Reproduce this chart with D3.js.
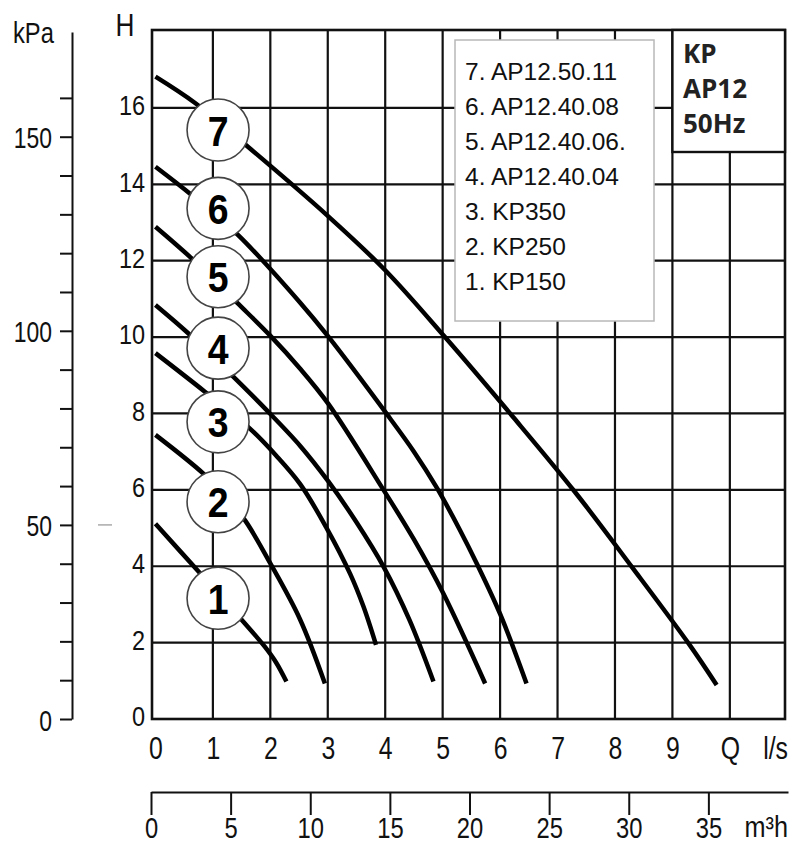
<!DOCTYPE html>
<html>
<head>
<meta charset="utf-8">
<script src="https://cdn.jsdelivr.net/npm/d3@7"></script>
<style>
  html, body { margin: 0; padding: 0; background: #fff; }
  svg { display: block; }
</style>
</head>
<body>
<svg id="chart" width="790" height="845"></svg>
<script>
// ---------- data ----------
const seriesNames = ["1", "2", "3", "4", "5", "6", "7"];
const legendLabels = ["7. AP12.50.11", "6. AP12.40.08", "5. AP12.40.06.", "4. AP12.40.04", "3. KP350", "2. KP250", "1. KP150"];
const boxLabels = ["KP", "AP12", "50Hz"];

// flow Q (l/s) and head H (m) per curve
const q1 = [0, 0.75, 1.50, 1.90, 2.10, 2.28];
const h1 = [5.11, 3.86, 2.60, 1.90, 1.48, 0.98];
const q2 = [0, 0.83, 1.20, 1.56, 1.99, 2.52, 2.95];
const h2 = [7.44, 6.43, 5.85, 5.20, 4.10, 2.60, 0.93];
const q3 = [0, 0.86, 1.64, 2.10, 2.52, 2.98, 3.39, 3.62, 3.84];
const h3 = [9.58, 8.57, 7.61, 6.90, 6.15, 5.00, 3.80, 2.95, 1.94];
const q4 = [0, 0.57, 1.35, 1.94, 2.52, 3.01, 3.50, 3.97, 4.42, 4.84];
const h4 = [10.84, 10.10, 8.97, 8.08, 7.15, 6.22, 5.15, 3.99, 2.60, 0.98];
const q5 = [0, 0.63, 1.42, 1.99, 2.52, 3.01, 3.97, 4.50, 5.01, 5.74];
const h5 = [12.89, 12.06, 10.90, 10.05, 9.17, 8.25, 6.00, 4.70, 3.29, 0.93];
const q6 = [0, 0.63, 1.44, 2.52, 3.01, 4.02, 4.50, 4.90, 5.30, 5.60, 6.00, 6.46];
const h6 = [14.46, 13.72, 12.67, 10.90, 10.01, 8.00, 7.00, 6.05, 4.95, 4.05, 2.75, 0.93];
const q7 = [0, 0.69, 1.62, 2.98, 4.00, 5.04, 6.23, 7.30, 8.29, 9.29, 9.77];
const h7 = [16.82, 16.13, 14.97, 13.20, 11.75, 10.00, 7.90, 5.95, 3.99, 1.96, 0.89];

// circle label anchors (Q, H)
const labelQ = 1.09;
const labelH = [3.16, 5.69, 7.78, 9.71, 11.58, 13.37, 15.42];

// ticks
const qTicks = [0, 1, 2, 3, 4, 5, 6, 7, 8, 9, 10];
const qTickText = ["0", "1", "2", "3", "4", "5", "6", "7", "8", "9", "Q"];
const hTicks = [0, 2, 4, 6, 8, 10, 12, 14, 16];
const hGrid = [2, 4, 6, 8, 10, 12, 14, 16];
const qGrid = [1, 2, 3, 4, 5, 6, 7, 8, 9, 10];
const kpaTicks = [0, 10, 20, 30, 40, 50, 60, 70, 80, 90, 100, 110, 120, 130, 140, 150, 160];
const kpaLabeled = [0, 50, 100, 150];
const m3Ticks = [0, 5, 10, 15, 20, 25, 30, 35];

// ---------- layout ----------
const svg = d3.select("#chart");
const FONT = "'Liberation Sans', Arial, sans-serif";
const plotL = 152, plotR = 785, plotT = 30, plotB = 719;

const x = d3.scaleLinear().domain([-0.06, 10.96]).range([plotL, plotR]);
const y = d3.scaleLinear().domain([0, 18.04]).range([plotB, plotT]);
const kpa = d3.scaleLinear().domain([0, 18.04 * 9.81]).range([plotB, plotT + 2]);
const m3 = d3.scaleLinear().domain([0, 40]).range([151, 788]);

// ---------- grid ----------
const grid = svg.append("g").attr("stroke", "#111").attr("stroke-width", 2.2);
grid.selectAll(".v").data(qGrid).join("line")
  .attr("x1", d => x(d)).attr("x2", d => x(d))
  .attr("y1", plotT).attr("y2", plotB);
grid.selectAll(".h").data(hGrid).join("line")
  .attr("x1", plotL).attr("x2", plotR)
  .attr("y1", d => y(d)).attr("y2", d => y(d));

// frame
svg.append("rect").attr("x", plotL).attr("y", plotT)
  .attr("width", plotR - plotL).attr("height", plotB - plotT)
  .attr("fill", "none").attr("stroke", "#111").attr("stroke-width", 2.6);

// ---------- H axis (left of frame) ----------
const hAxis = svg.append("g").attr("transform", `translate(${plotL},0)`)
  .call(d3.axisLeft(y).tickValues(hTicks).tickSize(0).tickPadding(7).tickFormat(d => d));
hAxis.select(".domain").remove();
hAxis.selectAll(".tick text").attr("font-family", FONT).attr("font-size", 27).attr("fill", "#111")
  .attr("dy", "0.25em").attr("x", -7 / 0.87).attr("transform", "scale(0.87,1)");
hAxis.attr("font-family", null).attr("font-size", null);

// ---------- l/s axis (bottom) ----------
const qAxis = svg.append("g").attr("transform", `translate(0,${plotB})`)
  .call(d3.axisBottom(x).tickValues(qTicks).tickSize(0).tickPadding(18)
    .tickFormat((d, i) => qTickText[i]));
qAxis.select(".domain").remove();
qAxis.selectAll(".tick text").attr("font-family", FONT).attr("font-size", 31).attr("fill", "#111")
  .attr("x", 0).attr("transform", "scale(0.8,1)");
qAxis.attr("font-family", null).attr("font-size", null);

// ---------- kPa axis ----------
const kAxis = svg.append("g").attr("transform", "translate(72,0)")
  .call(d3.axisLeft(kpa).tickValues(kpaTicks).tickSize(12).tickSizeOuter(0).tickPadding(8)
    .tickFormat(d => kpaLabeled.includes(d) ? d : ""));
kAxis.select(".domain").attr("stroke", "#111").attr("stroke-width", 2);
kAxis.selectAll(".tick line").attr("stroke", "#111").attr("stroke-width", 2);
kAxis.selectAll(".tick text").attr("font-family", FONT).attr("font-size", 29).attr("fill", "#111")
  .attr("x", -20 / 0.79).attr("dy", "0.38em").attr("transform", "scale(0.79,1)");
kAxis.attr("font-family", null).attr("font-size", null);

// ---------- m3/h axis ----------
const mAxis = svg.append("g").attr("transform", "translate(0,792)")
  .call(d3.axisBottom(m3).tickValues(m3Ticks).tickSize(23).tickSizeOuter(0).tickPadding(2));
mAxis.select(".domain").attr("stroke", "#111").attr("stroke-width", 2);
mAxis.selectAll(".tick line").attr("stroke", "#111").attr("stroke-width", 2);
mAxis.selectAll(".tick text").attr("font-family", FONT).attr("font-size", 29).attr("fill", "#111")
  .attr("x", 0).attr("transform", "scale(0.82,1)");
mAxis.attr("font-family", null).attr("font-size", null);

// ---------- axis titles / units ----------
function ctext(str, px, py, size, sx, anchor, weight) {
  return svg.append("text").text(str)
    .attr("transform", `translate(${px},${py}) scale(${sx},1)`)
    .attr("text-anchor", anchor).attr("font-family", FONT)
    .attr("font-size", size).attr("font-weight", weight || "normal").attr("fill", "#111");
}
ctext("kPa", 13, 43, 30, 0.79, "start");
ctext("H", 125, 36, 32, 0.82, "middle");
ctext("l/s", 788, 759, 31, 0.8, "end");
ctext("m³h", 788, 837, 29, 0.87, "end");

// small grey artifact dash
svg.append("line").attr("x1", 98).attr("x2", 112).attr("y1", kpa(50)).attr("y2", kpa(50))
  .attr("stroke", "#aaa").attr("stroke-width", 1.5);

// ---------- curves ----------
const series = [[q1, h1], [q2, h2], [q3, h3], [q4, h4], [q5, h5], [q6, h6], [q7, h7]];
const line = d3.line().x(d => x(d[0])).y(d => y(d[1])).curve(d3.curveCatmullRom.alpha(0.5));
svg.append("g").selectAll("path").data(series).join("path")
  .attr("d", s => line(s[0].map((q, i) => [q, s[1][i]])))
  .attr("fill", "none").attr("stroke", "#000").attr("stroke-width", 4.5)
  .attr("stroke-linecap", "butt");

// ---------- circle labels ----------
const lab = svg.append("g").selectAll("g").data(seriesNames).join("g")
  .attr("transform", (d, i) => `translate(${x(labelQ)},${y(labelH[i])})`);
lab.append("circle").attr("r", 31).attr("fill", "#fff").attr("stroke", "#444").attr("stroke-width", 1.6);
lab.append("text").text(d => d).attr("text-anchor", "middle")
  .attr("transform", "translate(0,15.5) scale(0.87,1)")
  .attr("font-family", FONT).attr("font-weight", "bold").attr("font-size", 43).attr("fill", "#000");

// ---------- legend ----------
svg.append("rect").attr("x", 455).attr("y", 40).attr("width", 199).attr("height", 281)
  .attr("fill", "#fff").attr("stroke", "#b8b8b8").attr("stroke-width", 1.5);
svg.append("g").selectAll("text").data(legendLabels).join("text")
  .attr("x", 465).attr("y", (d, i) => 80 + i * 35)
  .attr("font-family", FONT).attr("font-size", 24.5).attr("fill", "#111")
  .text(d => d);

// ---------- top right box ----------
svg.append("rect").attr("x", x(9)).attr("y", plotT).attr("width", plotR - x(9)).attr("height", 152 - plotT)
  .attr("fill", "#fff").attr("stroke", "#111").attr("stroke-width", 2.4);
svg.append("g").selectAll("text").data(boxLabels).join("text")
  .attr("x", 683).attr("y", (d, i) => 63 + i * 35)
  .attr("font-family", "'Open Sans', 'DejaVu Sans', sans-serif").attr("font-weight", "bold")
  .attr("font-size", 26).attr("fill", "#222").text(d => d);
</script>
</body>
</html>
